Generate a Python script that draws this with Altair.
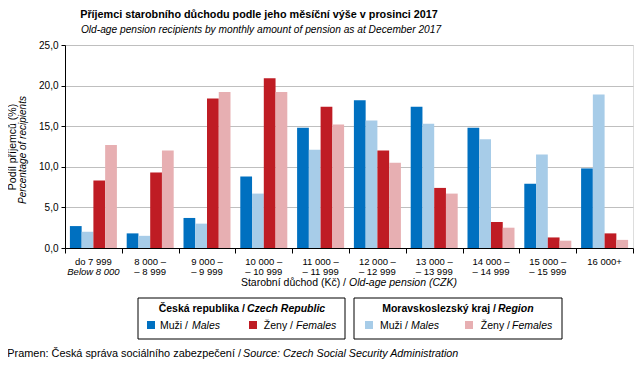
import altair as alt
import pandas as pd

# ---- data ----
cat_keys = ["c1", "c2", "c3", "c4", "c5", "c6", "c7", "c8", "c9", "c10"]
label_line1 = ["do 7 999", "8 000 –", "9 000 –", "10 000 –", "11 000 –",
               "12 000 –", "13 000 –", "14 000 –", "15 000 –", "16 000+"]
label_line2 = ["Below 8 000", "– 8 999", "– 9 999", "– 10 999", "– 11 999",
               "– 12 999", "– 13 999", "– 14 999", "– 15 999", ""]
series = ["CZ_M", "MS_M", "CZ_F", "MS_F"]
colors = ["#0070C0", "#A7CCE8", "#BF1C24", "#E7AFB2"]
cz_m = [2.7, 1.8, 3.7, 8.8, 14.8, 18.2, 17.4, 14.8, 7.9, 9.8]
ms_m = [2.0, 1.5, 3.0, 6.7, 12.1, 15.7, 15.3, 13.4, 11.5, 18.9]
cz_f = [8.3, 9.3, 18.4, 20.9, 17.4, 12.0, 7.4, 3.2, 1.3, 1.8]
ms_f = [12.7, 12.0, 19.2, 19.2, 15.2, 10.5, 6.7, 2.5, 0.9, 1.0]

W, H = 568, 203
OX, OY = 65, 45  # plot origin in page coords
FONT = "Liberation Sans"

rows = []
for s, vals in zip(series, [cz_m, ms_m, cz_f, ms_f]):
    for c, v in zip(cat_keys, vals):
        rows.append({"cat": c, "series": s, "value": v})
df = pd.DataFrame(rows)

xscale = alt.Scale(domain=cat_keys, paddingInner=0, paddingOuter=0)

bars = alt.Chart(df).mark_bar().encode(
    x=alt.X("cat:N", scale=xscale, sort=cat_keys,
            axis=alt.Axis(title=None, labels=False, tickBand="extent", ticks=True,
                          tickSize=5, tickColor="black", domainColor="black",
                          grid=False)),
    xOffset=alt.XOffset("series:N", sort=series,
                        scale=alt.Scale(domain=series, paddingInner=0, paddingOuter=0.417)),
    y=alt.Y("value:Q", scale=alt.Scale(domain=[0, 25], nice=False),
            axis=alt.Axis(title=None, values=[0, 5, 10, 15, 20, 25],
                          labelExpr="replace(format(datum.value, '.1f'), '.', ',')",
                          grid=True, gridColor="#BFBFBF", domainColor="black",
                          tickColor="black", tickSize=4, labelFontSize=10,
                          labelFont=FONT, labelColor="black", labelPadding=3)),
    color=alt.Color("series:N", scale=alt.Scale(domain=series, range=colors), legend=None),
)

labdf = pd.DataFrame({"cat": cat_keys, "l1": label_line1, "l2": label_line2})
xl1 = alt.Chart(labdf).mark_text(font=FONT, fontSize=9.5, baseline="alphabetic",
                                 color="black").encode(
    x=alt.X("cat:N", scale=xscale, sort=cat_keys), y=alt.value(H + 17), text="l1:N")
xl2a = alt.Chart(labdf.iloc[:1]).mark_text(font=FONT, fontSize=9.5, fontStyle="italic",
                                           baseline="alphabetic", color="black").encode(
    x=alt.X("cat:N", scale=xscale, sort=cat_keys), y=alt.value(H + 27), text="l2:N")
xl2b = alt.Chart(labdf.iloc[1:]).mark_text(font=FONT, fontSize=9.5,
                                           baseline="alphabetic", color="black").encode(
    x=alt.X("cat:N", scale=xscale, sort=cat_keys), y=alt.value(H + 27), text="l2:N")


def txt(s, x, y, align="left", size=10.5, weight="normal", style="normal",
        angle=0, baseline="alphabetic"):
    d = pd.DataFrame({"t": [s]})
    return alt.Chart(d).mark_text(font=FONT, fontSize=size, fontWeight=weight,
                                  fontStyle=style, align=align, baseline=baseline,
                                  angle=angle, color="black").encode(
        x=alt.value(x - OX), y=alt.value(y - OY), text="t:N")


def box(x1, y1, x2, y2):
    d = pd.DataFrame({"a": [0]})
    return alt.Chart(d).mark_rect(fill="white", stroke="black", strokeWidth=1).encode(
        x=alt.value(x1 - OX), x2=alt.value(x2 - OX),
        y=alt.value(y1 - OY), y2=alt.value(y2 - OY))


def swatch(x, y, col):
    d = pd.DataFrame({"a": [0]})
    return alt.Chart(d).mark_rect(fill=col).encode(
        x=alt.value(x - OX), x2=alt.value(x + 8 - OX),
        y=alt.value(y - OY), y2=alt.value(y + 8 - OY))


layers = [bars, xl1, xl2a, xl2b,
          txt("Příjemci starobního důchodu podle jeho měsíční výše v prosinci 2017",
              259, 18, align="center", size=10.8, weight="bold"),
          txt("Old-age pension recipients by monthly amount of pension as at December 2017",
              261, 33, align="center", size=10.2, style="italic"),
          txt("Podíl příjemců (%)", 13, 147, align="center", size=10.5, angle=270,
              baseline="middle"),
          txt("Percentage of recipients", 23, 150, align="center", size=10,
              style="italic", angle=270, baseline="middle"),
          txt("Starobní důchod (Kč) /", 346, 286, align="right", size=10.5),
          txt("Old-age pension (CZK)", 349, 286, align="left", size=10.5, style="italic"),
          box(138, 298, 345, 339), box(354, 298, 562, 339),
          txt("Česká republika /", 245, 312, align="right", size=10.5, weight="bold"),
          txt("Czech Republic", 247, 312, align="left", size=10.5, weight="bold",
              style="italic"),
          txt("Moravskoslezský kraj /", 496, 312, align="right", size=10.5, weight="bold"),
          txt("Region", 498, 312, align="left", size=10.5, weight="bold", style="italic"),
          swatch(147, 321, colors[0]), swatch(249, 321, colors[2]),
          swatch(365, 321, colors[1]), swatch(465, 321, colors[3]),
          txt("Muži /", 188, 329, align="right"), txt("Males", 192, 329, style="italic"),
          txt("Ženy /", 293, 329, align="right"), txt("Females", 296, 329, style="italic"),
          txt("Muži /", 408, 329, align="right"), txt("Males", 411, 329, style="italic"),
          txt("Ženy /", 510, 329, align="right"), txt("Females", 512, 329, style="italic"),
          txt("Pramen:  Česká správa sociálního zabezpečení /", 241, 357, align="right",
              size=10.9),
          txt("Source: Czech Social Security Administration", 243, 357, size=10.75,
              style="italic"),
          ]

chart = alt.layer(*layers).properties(
    width=W, height=H,
    autosize=alt.AutoSizeParams(type="none"),
    padding={"left": OX - 8, "top": OY - 8, "right": 643 - 16 - (OX - 8) - W,
             "bottom": 369 - 16 - (OY - 8) - H},
).configure_view(stroke="black", strokeWidth=1).configure(background="white")

chart.save("out.html", embed_options={"renderer": "svg", "actions": False})
